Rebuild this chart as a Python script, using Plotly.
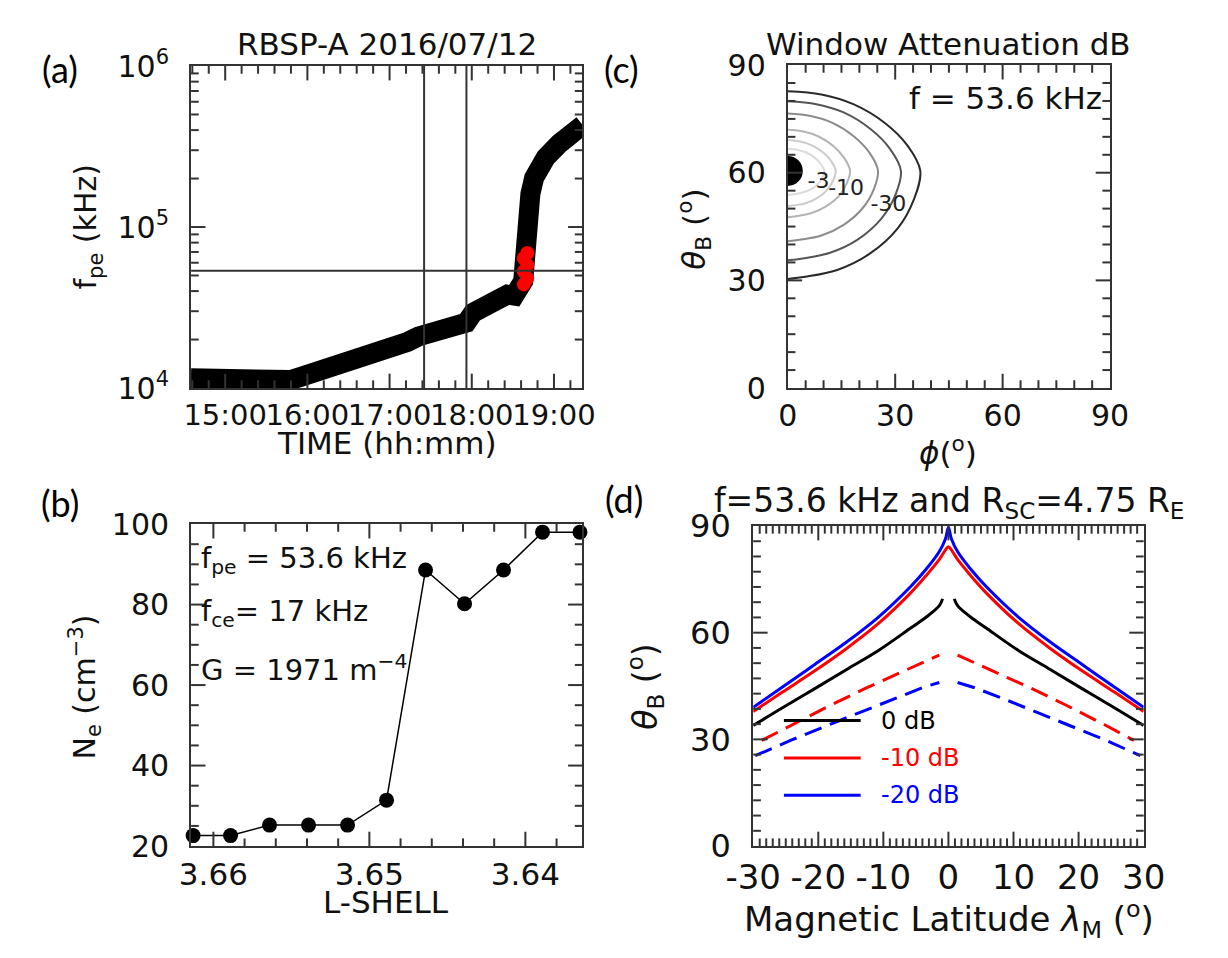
import plotly.graph_objects as go

W, H = 1228, 958
FONT = "DejaVu Sans"
AX = "#333333"
DAY = "2016-07-12 "

# ---------------- (a) plasma frequency versus time ----------------
time_hms = ["14:35:00", "14:45:00", "14:55:00", "15:05:00", "15:12:30", "15:20:00",
            "15:30:00", "15:40:00", "15:48:00", "15:56:00", "16:04:00", "16:11:00",
            "16:20:00", "16:27:00", "16:34:00", "16:42:00", "16:50:00", "16:57:00",
            "17:05:00", "17:13:00", "17:21:00", "17:28:00", "17:37:00", "17:45:00",
            "17:51:00", "17:56:00", "18:01:00", "18:08:00", "18:14:00", "18:19:00",
            "18:26:00", "18:31:00", "18:35:00", "18:37:30", "18:38:30", "18:39:00",
            "18:39:12", "18:40:24", "18:42:48", "18:45:30", "18:49:00", "18:54:00",
            "19:04:00", "19:11:00", "19:17:00", "19:21:00"]
fpe = [1.15e4, 1.15e4, 1.15e4, 1.14e4, 1.15e4, 1.09e4,
       1.08e4, 1.09e4, 1.12e4, 1.18e4, 1.24e4, 1.29e4,
       1.34e4, 1.38e4, 1.43e4, 1.50e4, 1.57e4, 1.64e4,
       1.78e4, 1.93e4, 2.09e4, 2.20e4, 2.31e4, 2.42e4,
       2.48e4, 2.55e4, 2.94e4, 3.22e4, 3.50e4, 3.73e4,
       3.80e4, 3.75e4, 4.10e4, 4.60e4, 5.80e4, 7.50e4,
       9.70e4, 1.28e5, 1.61e5, 2.02e5, 2.30e5, 2.70e5,
       3.30e5, 3.70e5, 4.05e5, 4.30e5]
sel_time_hms = ["18:38:00", "18:40:30", "18:38:00", "18:40:30", "18:38:00", "18:40:30"]
sel_fpe = [4.4e4, 4.8e4, 5.3e4, 5.8e4, 6.4e4, 6.9e4]
event_hms = ["17:25:12", "17:56:06"]
fpe_event = 5.36e4
hour_ticks = ["15:00", "16:00", "17:00", "18:00", "19:00"]
fpe_ticks = [1e4, 1e5, 1e6]
fpe_ticktext = ["10<sup>4</sup>", "10<sup>5</sup>", "10<sup>6</sup>"]

# ---------------- (b) electron density versus L ----------------
l_shell = [3.6613, 3.6589, 3.6564, 3.6539, 3.6514, 3.6489, 3.6464, 3.6439, 3.6414, 3.6389, 3.6365]
ne = [22.6, 22.6, 25.2, 25.2, 25.2, 31.4, 88.6, 80.2, 88.6, 98.0, 98.0]
l_ticks = [3.66, 3.65, 3.64]
ne_ticks = [20, 40, 60, 80, 100]

# ---------------- (c) window attenuation contours ----------------
contour_gray = ["#dcdcdc", "#cccccc", "#b4b4b4", "#8c8c8c", "#555555", "#2a2a2a"]
contour_phi = [
    [0, 2.6, 5.0, 7.5, 9.2, 10.2, 9.7, 8.5, 6.3, 3.8, 1.3, 0],
    [0, 3.4, 6.6, 9.8, 12.1, 13.4, 12.7, 11.1, 8.2, 5.0, 1.8, 0],
    [0, 4.4, 8.6, 12.8, 15.7, 17.4, 16.5, 14.4, 10.7, 6.5, 2.3, 0],
    [0, 6.4, 12.5, 18.5, 22.8, 25.2, 24.0, 20.9, 15.5, 9.4, 3.3, 0],
    [0, 8.0, 15.6, 23.2, 28.5, 31.6, 30.1, 26.2, 19.4, 11.8, 4.2, 0],
    [0, 9.4, 18.3, 27.2, 33.4, 37.0, 35.2, 30.7, 22.7, 13.8, 4.9, 0],
]
contour_theta = [
    [66.7, 66.4, 65.7, 64.2, 62.5, 60.5, 58.7, 56.9, 55.3, 54.4, 53.9, 53.8],
    [69.1, 68.7, 67.7, 65.7, 63.3, 60.5, 57.9, 55.3, 52.9, 51.5, 50.9, 50.7],
    [72.0, 71.5, 70.1, 67.4, 64.2, 60.5, 57.1, 53.6, 50.6, 48.7, 47.9, 47.6],
    [76.5, 75.8, 73.9, 70.1, 65.6, 60.5, 55.3, 50.1, 45.4, 42.5, 41.3, 40.9],
    [79.9, 79.1, 76.8, 72.1, 66.7, 60.5, 53.9, 47.3, 41.3, 37.7, 36.1, 35.6],
    [82.7, 81.8, 79.1, 73.8, 67.6, 60.5, 52.5, 44.5, 37.3, 32.9, 31.0, 30.4],
]
label_phi = [8.6, 16.3, 28.1]
label_theta = [57.4, 55.4, 50.9]
label_text = ["-3", "-10", "-30"]
dot_phi, dot_theta = [0.0], [60.5]
angle_ticks = [0, 30, 60, 90]

# ---------------- (d) cone angles versus magnetic latitude ----------------
lat_0db = [-30, -25.5, -20.6, -15.7, -10.75, -5.8, -3.4, -1.4, -0.9, None,
           0.9, 1.4, 3.4, 5.8, 10.75, 15.7, 20.6, 25.5, 30]
theta_0db = [33.9, 38.9, 44.2, 49.6, 55.0, 61.3, 64.4, 67.6, 69.5, None,
             69.5, 67.6, 64.4, 61.3, 55.0, 49.6, 44.2, 38.9, 33.9]
lat_peak = [-30, -25.5, -20.6, -15.7, -10.75, -5.8, -3.4, -1.4, -0.45, 0,
            0.45, 1.4, 3.4, 5.8, 10.75, 15.7, 20.6, 25.5, 30]
theta_10db = [37.8, 43.3, 49.2, 55.5, 62.6, 71.2, 76.1, 80.6, 83.3, 84.2,
              83.3, 80.6, 76.1, 71.2, 62.6, 55.5, 49.2, 43.3, 37.8]
theta_20db = [39.0, 44.7, 51.0, 57.3, 64.4, 73.0, 77.9, 82.8, 86.4, 89.6,
              86.4, 82.8, 77.9, 73.0, 64.4, 57.3, 51.0, 44.7, 39.0]
lat_low10 = [-28.7, -24.0, -18.1, -12.7, -7.8, -3.9, -1.4, None,
             1.4, 3.9, 7.8, 12.7, 18.1, 24.0, 28.5]
theta_low10 = [29.7, 34.1, 39.6, 44.4, 48.4, 51.7, 53.7, None,
               53.7, 51.7, 48.4, 44.4, 39.6, 34.1, 29.7]
lat_low20 = [-29.7, -24.0, -18.1, -12.7, -7.8, -3.9, -1.4, None,
             1.4, 3.9, 7.8, 12.7, 18.1, 24.0, 29.5]
theta_low20 = [25.4, 29.9, 34.3, 38.3, 41.9, 44.6, 46.0, None,
               46.0, 44.6, 41.9, 38.3, 34.3, 29.9, 25.4]
lat_ticks = [-30, -20, -10, 0, 10, 20, 30]
legend_names = ["0 dB", "-10 dB", "-20 dB"]
legend_colors = ["black", "#ff0000", "#0000ff"]

# panel frames in pixels: left, right, top, bottom
BOX = {"": (170, 578, 47, 383), "2": (170, 578, 525, 861),
       "3": (792, 1128, 46, 383), "4": (756, 1163, 527, 861)}


def px_x(x):
    return x / W


def px_y(y):
    return 1 - y / H


fig = go.Figure()

# (a)
fig.add_trace(go.Scatter(x=[DAY + t for t in time_hms], y=fpe, mode="lines",
                         line=dict(color="black", width=20), xaxis="x", yaxis="y",
                         showlegend=False))
fig.add_trace(go.Scatter(x=[DAY + t for t in sel_time_hms], y=sel_fpe, mode="markers",
                         marker=dict(color="#ff0000", size=14), xaxis="x", yaxis="y",
                         showlegend=False))

# (b)
fig.add_trace(go.Scatter(x=l_shell, y=ne, mode="lines+markers",
                         line=dict(color="black", width=1.5),
                         marker=dict(color="black", size=15), xaxis="x2", yaxis="y2",
                         cliponaxis=False, showlegend=False))

# (c)
for ph, th, col in zip(contour_phi, contour_theta, contour_gray):
    fig.add_trace(go.Scatter(x=ph, y=th, mode="lines", line=dict(color=col, width=2, shape="spline"),
                             xaxis="x3", yaxis="y3", showlegend=False))
fig.add_trace(go.Scatter(x=label_phi, y=label_theta, mode="text", text=label_text,
                         textfont=dict(family=FONT, size=22, color="#222"),
                         xaxis="x3", yaxis="y3", showlegend=False))
fig.add_trace(go.Scatter(x=dot_phi, y=dot_theta, mode="markers",
                         marker=dict(color="black", size=30), xaxis="x3", yaxis="y3",
                         showlegend=False))

# (d)
fig.add_trace(go.Scatter(x=lat_low10, y=theta_low10, mode="lines",
                         line=dict(color="#ff0000", width=3, dash="18px,9px"),
                         xaxis="x4", yaxis="y4", showlegend=False))
fig.add_trace(go.Scatter(x=lat_low20, y=theta_low20, mode="lines",
                         line=dict(color="#0000ff", width=3, dash="18px,9px"),
                         xaxis="x4", yaxis="y4", showlegend=False))
fig.add_trace(go.Scatter(x=lat_0db, y=theta_0db, mode="lines",
                         line=dict(color="black", width=3, shape="spline"),
                         xaxis="x4", yaxis="y4", showlegend=False))
fig.add_trace(go.Scatter(x=lat_peak, y=theta_10db, mode="lines",
                         line=dict(color="#ff0000", width=3, shape="spline"),
                         xaxis="x4", yaxis="y4", showlegend=False))
fig.add_trace(go.Scatter(x=lat_peak, y=theta_20db, mode="lines",
                         line=dict(color="#0000ff", width=3, shape="spline"),
                         xaxis="x4", yaxis="y4", showlegend=False))


def frame(key, axis, size=30, **kw):
    l, r, t, b = BOX[key]
    dom = [px_x(l), px_x(r)] if axis == "x" else [px_y(b), px_y(t)]
    other = ("y" if axis == "x" else "x") + key
    base = dict(domain=dom, anchor=other, showline=True, linewidth=2, linecolor=AX,
                mirror=True, ticks="", showgrid=False, zeroline=False, tickangle=0,
                ticklabelstandoff=0 if axis == "x" else 14,
                tickfont=dict(family=FONT, size=size, color="#111"))
    base.update(kw)
    return base


fig.update_layout(
    width=W, height=H, margin=dict(l=0, r=0, t=0, b=0),
    paper_bgcolor="white", plot_bgcolor="white",
    font=dict(family=FONT, color="#111"),
    xaxis=frame("", "x", 29, type="date", range=[DAY + "14:35:06", DAY + "19:20:48"],
                tickmode="array", tickvals=[DAY + h for h in hour_ticks], ticktext=hour_ticks),
    yaxis=frame("", "y", 30, type="log", range=[4, 6],
                tickmode="array", tickvals=fpe_ticks, ticktext=fpe_ticktext),
    xaxis2=frame("2", "x", 31, range=[3.66143, 3.63634], tickmode="array", tickvals=l_ticks,
                 ticktext=["%.2f" % v for v in l_ticks]),
    yaxis2=frame("2", "y", 30, range=[20, 100], tickmode="array", tickvals=ne_ticks),
    xaxis3=frame("3", "x", 30, range=[0, 90], tickmode="array", tickvals=angle_ticks),
    yaxis3=frame("3", "y", 30, range=[0, 90], tickmode="array", tickvals=angle_ticks),
    xaxis4=frame("4", "x", 34, range=[-30, 30], tickmode="array", tickvals=lat_ticks,
                 ticktext=["%d" % v for v in lat_ticks]),
    yaxis4=frame("4", "y", 32, range=[0, 90], tickmode="array", tickvals=angle_ticks),
)

shapes = []


# tick marks drawn inward on all four sides of a panel
def ticks_x(key, vals, length):
    l, r, t, b = BOX[key]
    f = length / (b - t)
    for v in vals:
        for y0, y1 in ((0, f), (1, 1 - f)):
            shapes.append(dict(type="line", xref="x" + key, yref="y" + key + " domain",
                               x0=v, x1=v, y0=y0, y1=y1, line=dict(color=AX, width=2)))


def ticks_y(key, vals, length):
    l, r, t, b = BOX[key]
    f = length / (r - l)
    for v in vals:
        for x0, x1 in ((0, f), (1, 1 - f)):
            shapes.append(dict(type="line", xref="x" + key + " domain", yref="y" + key,
                               x0=x0, x1=x1, y0=v, y1=v, line=dict(color=AX, width=2)))


MAJ, MIN = 15, 8
ticks_x("", [DAY + h for h in hour_ticks], MAJ)
ticks_x("", ["%s%02d:%02d:00" % (DAY, m // 60, m % 60)
             for m in range(14 * 60 + 36, 19 * 60 + 20, 12) if m % 60], MIN)
ticks_y("", [1e5], MAJ)
ticks_y("", [k * 10 ** e for e in (4, 5) for k in range(2, 10)], MIN)
ticks_x("2", l_ticks, MAJ)
ticks_x("2", [round(3.638 + 0.002 * i, 3) for i in range(11) if i % 5 != 1], MIN)
ticks_y("2", [40, 60, 80], MAJ)
ticks_y("2", [v for v in range(25, 100, 5) if v % 20], MIN)
ticks_x("3", [30, 60], MAJ)
ticks_x("3", [v for v in range(5, 90, 5) if v % 30], MIN)
ticks_y("3", [30, 60], MAJ)
ticks_y("3", [v for v in range(5, 90, 5) if v % 30], MIN)
ticks_x("4", [-20, -10, 0, 10, 20], MAJ)
ticks_x("4", [v for v in range(-29, 30) if v % 10], MIN)
ticks_y("4", [30, 60], MAJ)
ticks_y("4", [k * 30 / 7 for k in range(1, 21) if k % 7], MIN)

ann = []


def text(x, y, s, size=30, color="#111", family=FONT, angle=0, xanchor="center"):
    ann.append(dict(x=px_x(x), y=px_y(y), xref="paper", yref="paper", text=s,
                    showarrow=False, xanchor=xanchor, yanchor="middle", textangle=angle,
                    font=dict(family=family, size=size, color=color)))


# panel letters
for lx, ly, s in [(33, 50, "(a)"), (33, 503, "(b)"), (619, 50, "(c)"), (621, 499, "(d)")]:
    text(lx, ly, s, size=36, family="Lato", color="#000")

# titles
text(374, 24, "RBSP-A 2016/07/12", size=31)
text(960, 24, "Window Attenuation dB", size=31)
text(960, 502, "f=53.6 kHz and R<sub>SC</sub>=4.75 R<sub>E</sub>", size=33)

# axis titles
text(374, 440, "TIME (hh:mm)", size=31)
text(62, 215, "f<sub>pe</sub> (kHz)", size=30, angle=-90)
text(373, 919, "L-SHELL", size=31)
text(60, 695, "N<sub>e</sub> (cm<sup>−3</sup>)", size=30, angle=-90)
text(959, 449, "<i>ϕ</i>(<sup>o</sup>)", size=31)
text(695, 217, "<i>θ</i><sub>B</sub> (<sup>o</sup>)", size=31, angle=-90)
text(960, 938, "Magnetic Latitude <i>λ</i><sub>M</sub> (<sup>o</sup>)", size=34)
text(644, 695, "<i>θ</i><sub>B</sub> (<sup>o</sup>)", size=33, angle=-90)

# in-panel notes
text(1122, 80, "f = 53.6 kHz", size=31, xanchor="right")
text(178, 562, "f<sub>pe</sub> = 53.6 kHz", size=29, xanchor="left")
text(178, 618, "f<sub>ce</sub>= 17 kHz", size=29, xanchor="left")
text(178, 675, "G = 1971 m<sup>−4</sup>", size=29, xanchor="left")

# legend of panel (d)
for i, (name, col) in enumerate(zip(legend_names, legend_colors)):
    yy = 730 + 39 * i
    shapes.append(dict(type="line", xref="paper", yref="paper",
                       x0=px_x(788), x1=px_x(868), y0=px_y(yy), y1=px_y(yy),
                       line=dict(color=col, width=3)))
    text(887, yy, name, size=24, color=col, xanchor="left")

# reference lines of panel (a)
for t in event_hms:
    shapes.append(dict(type="line", xref="x", yref="y domain", x0=DAY + t, x1=DAY + t,
                       y0=0, y1=1, line=dict(color=AX, width=2)))
shapes.append(dict(type="line", xref="x domain", yref="y", x0=0, x1=1,
                   y0=fpe_event, y1=fpe_event, line=dict(color=AX, width=2)))

fig.update_layout(annotations=ann, shapes=shapes)
fig.write_html("out.html")
